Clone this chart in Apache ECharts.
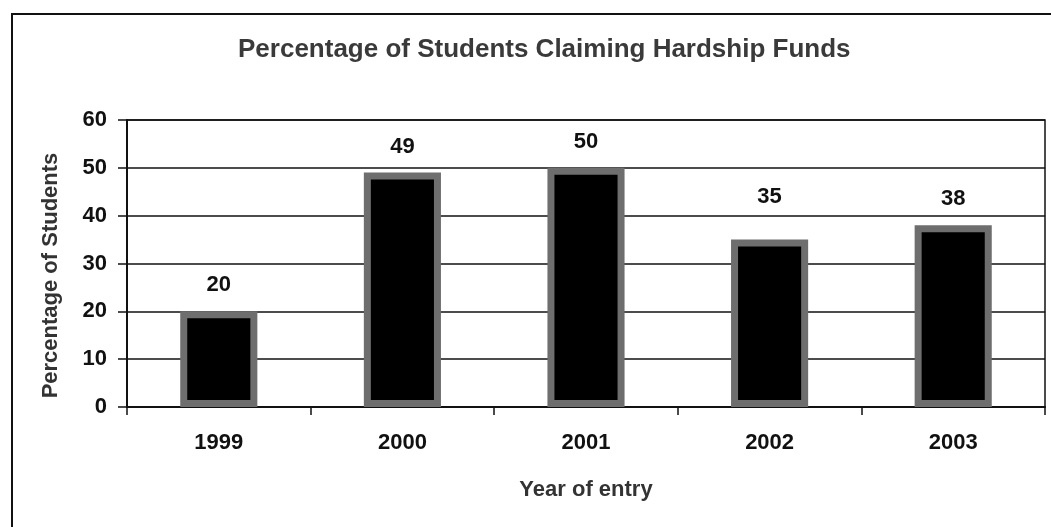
<!DOCTYPE html>
<html>
<head>
<meta charset="utf-8">
<script src="https://cdn.jsdelivr.net/npm/echarts@6/dist/echarts.min.js"></script>
<style>html,body{margin:0;padding:0;background:#fff}#c{width:1051px;height:527px}</style>
</head>
<body>
<div id="c"></div>
<script>
const titleText = 'Percentage of Students Claiming Hardship Funds';
const categories = ['1999', '2000', '2001', '2002', '2003'];
const values = [20, 49, 50, 35, 38];
const yTicks = { min: 0, max: 60, interval: 10 };
const xName = 'Year of entry';
const yName = 'Percentage of Students';

const chart = echarts.init(document.getElementById('c'), null, { renderer: 'canvas' });
const F = 'Liberation Sans, Arial, sans-serif';
const barData = values.map((v, i) => i === 3 ? { value: v, label: { distance: 32 } } : v);
chart.setOption({
  animation: false,
  backgroundColor: '#fff',
  graphic: [{
    type: 'rect', shape: { x: 12, y: 14, width: 1100, height: 600 },
    style: { fill: 'none', stroke: '#111', lineWidth: 2 }, silent: true
  }],
  title: {
    text: titleText, left: 233, top: 32,
    textStyle: { fontFamily: F, fontSize: 26, fontWeight: 'bold', color: '#3a3a3a' }
  },
  grid: { left: 127, right: 6, top: 120, bottom: 120, show: true, borderColor: '#111', borderWidth: 1.5, backgroundColor: 'transparent' },
  xAxis: {
    type: 'category', data: categories,
    name: xName, nameLocation: 'middle', nameGap: 72,
    nameTextStyle: { fontFamily: F, fontSize: 22, fontWeight: 'bold', color: '#333' },
    axisLine: { lineStyle: { color: '#111', width: 2 } },
    axisTick: { show: true, alignWithLabel: false, length: 8, lineStyle: { color: '#111', width: 1.5 } },
    axisLabel: { fontFamily: F, fontSize: 22, fontWeight: 'bold', color: '#111', margin: 25 }
  },
  yAxis: {
    type: 'value', min: yTicks.min, max: yTicks.max, interval: yTicks.interval,
    name: yName, nameLocation: 'middle', nameGap: 65, nameRotate: 90,
    nameTextStyle: { fontFamily: F, fontSize: 22, fontWeight: 'bold', color: '#333', padding: [0, 24, 0, 0] },
    axisLine: { show: true, lineStyle: { color: '#111', width: 2 } },
    axisTick: { show: true, length: 9, lineStyle: { color: '#111', width: 1.5 } },
    axisLabel: { fontFamily: F, fontSize: 22, fontWeight: 'bold', color: '#111', margin: 20 },
    splitLine: { show: true, lineStyle: { color: '#111', width: 1.5 } }
  },
  series: [{
    type: 'bar', data: barData, barWidth: '42%',
    itemStyle: { color: '#000', borderColor: '#6e6e6e', borderWidth: 7 },
    label: { show: true, position: 'top', distance: 15, fontFamily: F, fontSize: 22, fontWeight: 'bold', color: '#111' }
  }]
});
</script>
</body>
</html>
